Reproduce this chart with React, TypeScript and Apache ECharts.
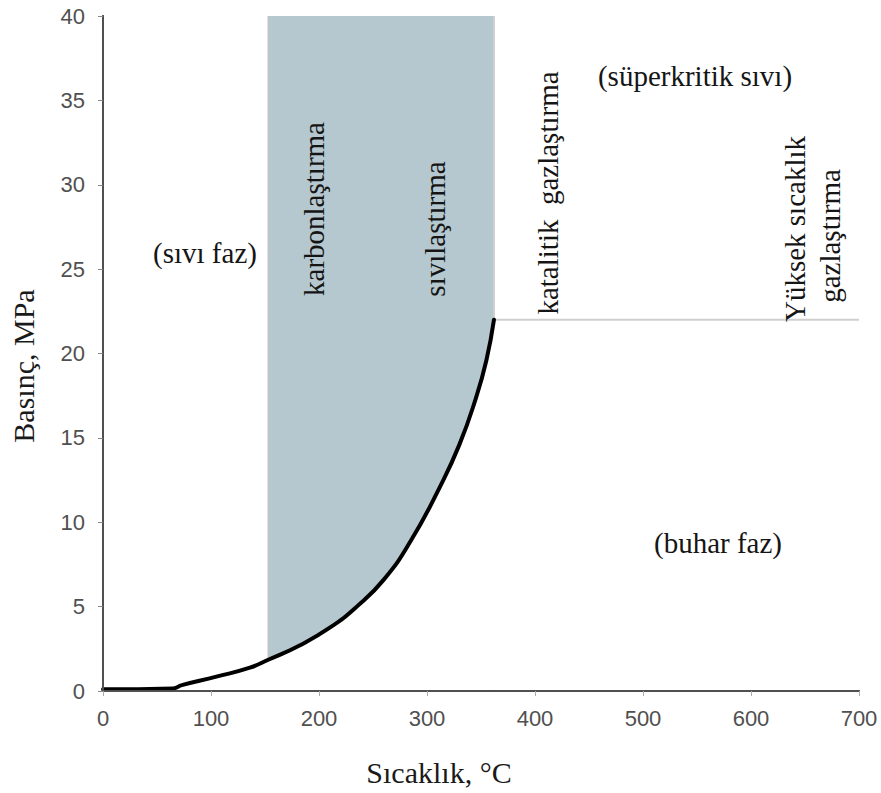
import React, { useEffect, useRef } from "react";
import * as echarts from "echarts";

// Saturation curve (temperature °C, pressure MPa)
const temps = [0, 65, 73, 105, 136, 153, 182, 210, 235, 260, 285, 312, 330, 345, 355, 362];
const pressures = [0.1, 0.15, 0.35, 0.85, 1.38, 1.85, 2.7, 3.75, 5.0, 6.6, 8.9, 12.1, 14.6, 17.3, 19.6, 22];

// Shaded band (hydrothermal carbonisation / liquefaction window)
const bandStart = 153;
const bandEnd = 362;
const criticalPressure = 22;
const xMax = 700;
const yMax = 40;

const xTicks = [0, 100, 200, 300, 400, 500, 600, 700];
const yTicks = [0, 5, 10, 15, 20, 25, 30, 35, 40];

const xTitle = "Sıcaklık, °C";
const yTitle = "Basınç, MPa";

const SERIF = "'Liberation Serif', 'Times New Roman', serif";
const SANS = "'Liberation Sans', Arial, sans-serif";

export default function App() {
  const ref = useRef<HTMLDivElement>(null);
  useEffect(() => {
    if (!ref.current) return;
    const chart = echarts.init(ref.current, undefined, { renderer: "svg" });
    const curve = temps.map((t, i) => [t, pressures[i]]);
    const axisLine = { show: true, lineStyle: { color: "#505050", width: 2 } };
    const textAnn = (text: string, x: number, y: number, rot = 0) => ({
      type: "text",
      x,
      y,
      rotation: rot,
      z: 100,
      style: {
        text,
        fill: "#151515",
        font: `29px ${SERIF}`,
        textAlign: "center",
        textVerticalAlign: "middle",
      },
    });
    chart.setOption({
      animation: false,
      grid: { left: 103, right: 22, top: 16, bottom: 102 },
      xAxis: [
        {
          type: "value",
          min: 0,
          max: xMax,
          interval: 100,
          z: 10,
          axisLine,
          axisTick: { show: true, length: 5, lineStyle: { color: "#aaa" } },
          axisLabel: {
            color: "#505050",
            fontFamily: SANS,
            fontSize: 22,
            margin: 16,
            formatter: (v: number) => (xTicks.includes(v) ? String(v) : ""),
          },
          splitLine: { show: false },
        },
        {
          type: "value",
          position: "top",
          min: 0,
          max: xMax,
          z: 10,
          axisLine,
          axisTick: { show: false },
          axisLabel: { show: false },
          splitLine: { show: false },
        },
      ],
      yAxis: [
        {
          type: "value",
          min: 0,
          max: yMax,
          interval: 5,
          z: 10,
          axisLine,
          axisTick: { show: true, length: 5, lineStyle: { color: "#888" } },
          axisLabel: {
            color: "#505050",
            fontFamily: SANS,
            fontSize: 22,
            margin: 18,
            formatter: (v: number) => (yTicks.includes(v) ? String(v) : ""),
          },
          splitLine: { show: false },
        },
        {
          type: "value",
          position: "right",
          min: 0,
          max: yMax,
          z: 10,
          axisLine,
          axisTick: { show: false },
          axisLabel: { show: false },
          splitLine: { show: false },
        },
      ],
      series: [
        {
          type: "line",
          name: "band-edge",
          z: 1,
          symbol: "none",
          data: [
            [bandStart, 0],
            [bandStart, yMax],
          ],
          lineStyle: { color: "#c4c4c4", width: 1.5 },
          markArea: {
            silent: true,
            itemStyle: { color: "#b5c8cf", borderWidth: 0 },
            data: [[{ xAxis: bandStart, yAxis: 0 }, { xAxis: bandEnd, yAxis: yMax }]],
          },
        },
        {
          type: "line",
          name: "critical",
          z: 1,
          symbol: "none",
          data: [
            [bandEnd, yMax],
            [bandEnd, criticalPressure],
            [xMax, criticalPressure],
          ],
          lineStyle: { color: "#cfcfcf", width: 2 },
        },
        {
          type: "line",
          name: "saturation",
          z: 3,
          data: curve,
          smooth: 0.5,
          symbol: "none",
          lineStyle: { color: "#000", width: 4, cap: "round" },
          areaStyle: { color: "#ffffff", opacity: 1, origin: "start" },
        },
      ],
      graphic: [
        {
          type: "text",
          x: 439,
          y: 772,
          style: {
            text: xTitle,
            fill: "#1a1a1a",
            font: `30px ${SERIF}`,
            textAlign: "center",
            textVerticalAlign: "middle",
          },
        },
        {
          type: "text",
          x: 23,
          y: 366,
          rotation: Math.PI / 2,
          style: {
            text: yTitle,
            fill: "#1a1a1a",
            font: `30px ${SERIF}`,
            textAlign: "center",
            textVerticalAlign: "middle",
          },
        },
        textAnn("(sıvı faz)", 205, 253),
        textAnn("karbonlaştırma", 314, 209, Math.PI / 2),
        textAnn("sıvılaştırma", 435, 229, Math.PI / 2),
        textAnn("katalitik  gazlaştırma", 548, 193, Math.PI / 2),
        textAnn("(süperkritik sıvı)", 695, 76),
        textAnn("Yüksek sıcaklık", 795, 229, Math.PI / 2),
        textAnn("gazlaştırma", 830, 236, Math.PI / 2),
        textAnn("(buhar faz)", 718, 543),
      ],
    });
    return () => chart.dispose();
  }, []);
  return (
    <div
      ref={ref}
      style={{ position: "fixed", left: 0, top: 0, width: 881, height: 793, background: "#fff" }}
    />
  );
}
